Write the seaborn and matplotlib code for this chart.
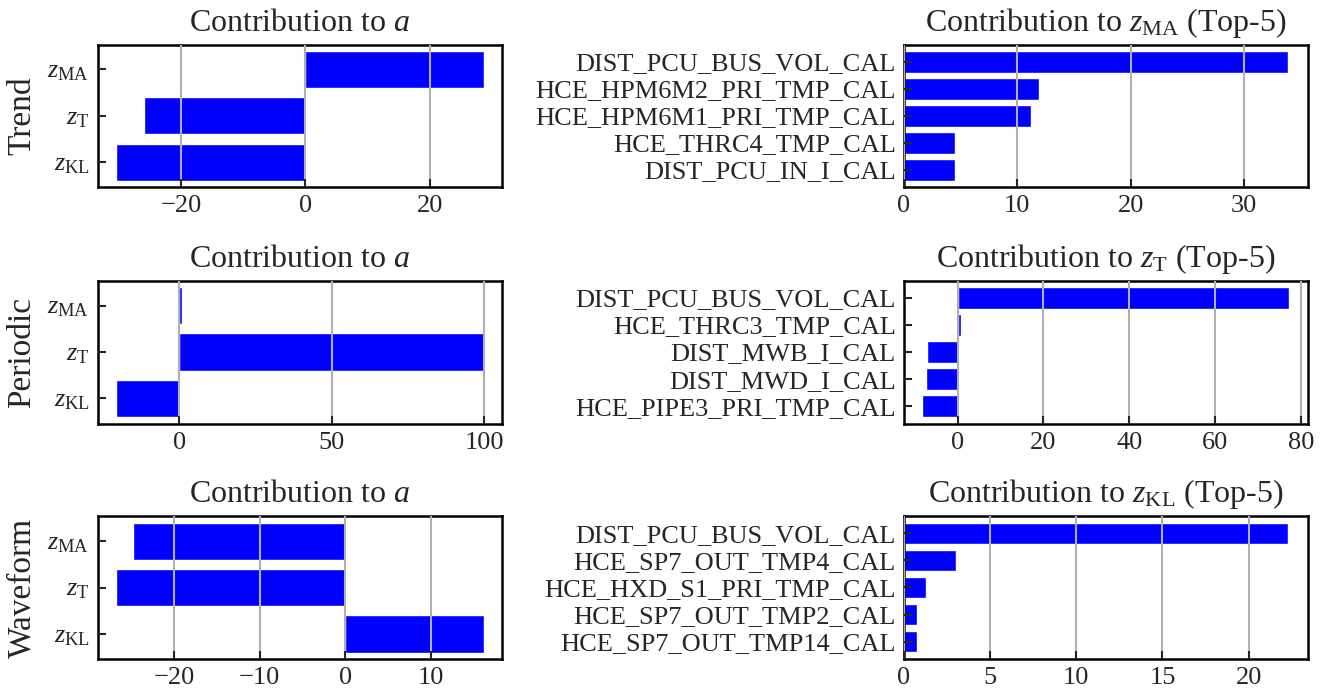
import numpy as np
import pandas as pd
import matplotlib
matplotlib.use("Agg")
import matplotlib.pyplot as plt
from matplotlib.ticker import MultipleLocator
import seaborn as sns

# Row names (one per component)
components = ["Trend", "Periodic", "Waveform"]
latent_labels = [r"$z_{\mathrm{MA}}$", r"$z_{\mathrm{T}}$", r"$z_{\mathrm{KL}}$"]
latent_titles = [r"$z_{\mathrm{MA}}$", r"$z_{\mathrm{T}}$", r"$z_{\mathrm{KL}}$"]

# Contribution to a, per component (order: zMA, zT, zKL)
trend_a = [28.7, -25.9, -30.4]
periodic_a = [0.8, 99.8, -20.6]
waveform_a = [-24.8, -26.7, 16.1]

# Top-5 sensor contributions
trend_top_names = ["DIST_PCU_BUS_VOL_CAL", "HCE_HPM6M2_PRI_TMP_CAL",
                   "HCE_HPM6M1_PRI_TMP_CAL", "HCE_THRC4_TMP_CAL", "DIST_PCU_IN_I_CAL"]
trend_top_vals = [33.9, 11.9, 11.2, 4.5, 4.5]

periodic_top_names = ["DIST_PCU_BUS_VOL_CAL", "HCE_THRC3_TMP_CAL",
                      "DIST_MWB_I_CAL", "DIST_MWD_I_CAL", "HCE_PIPE3_PRI_TMP_CAL"]
periodic_top_vals = [77.2, 0.8, -7.1, -7.4, -8.2]

waveform_top_names = ["DIST_PCU_BUS_VOL_CAL", "HCE_SP7_OUT_TMP4_CAL",
                      "HCE_HXD_S1_PRI_TMP_CAL", "HCE_SP7_OUT_TMP2_CAL", "HCE_SP7_OUT_TMP14_CAL"]
waveform_top_vals = [22.3, 3.0, 1.3, 0.75, 0.75]

a_vals = [trend_a, periodic_a, waveform_a]
top_names = [trend_top_names, periodic_top_names, waveform_top_names]
top_vals = [trend_top_vals, periodic_top_vals, waveform_top_vals]
left_steps = [20, 50, 10]
right_steps = [10, 20, 5]

sns.set_style("white")
plt.rcParams["font.family"] = ["Liberation Serif", "DejaVu Serif"]
plt.rcParams["mathtext.fontset"] = "custom"
plt.rcParams["mathtext.rm"] = "Liberation Serif"
plt.rcParams["mathtext.it"] = "Liberation Serif:italic"
plt.rcParams["mathtext.bf"] = "Liberation Serif:bold"
plt.rcParams["axes.edgecolor"] = "black"
plt.rcParams["axes.linewidth"] = 1.5

fig = plt.figure(figsize=(13.27, 6.92), dpi=100)

W, H = 1327.0, 692.0
row_px = [(44.5, 187.0), (280.5, 423.5), (516.0, 659.0)]
left_px = (98.0, 502.0)
right_px = (904.0, 1307.5)


def style_axis(ax, n, step):
    # matplotlib-like margins around the bars (bar height 0.8)
    lo, hi = -0.4, n - 1 + 0.4
    pad = 0.05 * (hi - lo)
    ax.set_ylim(hi + pad, lo - pad)
    ax.xaxis.set_major_locator(MultipleLocator(step))
    ax.grid(True, axis="x", color="#b0b0b0", linewidth=1.5)
    ax.grid(False, axis="y")
    ax.set_axisbelow(False)
    ax.tick_params(axis="both", direction="in", length=6, width=1.5,
                   labelsize=19, pad=6, left=True, bottom=True)
    for sp in ax.spines.values():
        sp.set_linewidth(1.8)
        sp.set_visible(True)
    ax.set_xlabel("")


for i, comp in enumerate(components):
    top, bot = row_px[i]
    y0 = 1 - bot / H
    h = (bot - top) / H

    # left panel: contribution to a
    axl = fig.add_axes([left_px[0] / W, y0, (left_px[1] - left_px[0]) / W, h])
    dfl = pd.DataFrame({"latent": latent_labels, "value": a_vals[i]})
    sns.barplot(data=dfl, x="value", y="latent", orient="h", color="#0000ff",
                saturation=1, width=0.8, ax=axl)
    style_axis(axl, len(latent_labels), left_steps[i])
    axl.set_title(r"Contribution to $a$", fontsize=23, pad=10)
    axl.set_ylabel(comp, fontsize=24)
    axl.yaxis.set_label_coords(-0.15, 0.5)

    # right panel: top-5 sensors
    axr = fig.add_axes([right_px[0] / W, y0, (right_px[1] - right_px[0]) / W, h])
    dfr = pd.DataFrame({"sensor": top_names[i], "value": top_vals[i]})
    sns.barplot(data=dfr, x="value", y="sensor", orient="h", color="#0000ff",
                saturation=1, width=0.8, ax=axr)
    style_axis(axr, len(top_names[i]), right_steps[i])
    axr.set_title("Contribution to " + latent_titles[i] + " (Top-5)", fontsize=23, pad=10)
    axr.set_ylabel("")

fig.savefig("out.png", dpi=100)
